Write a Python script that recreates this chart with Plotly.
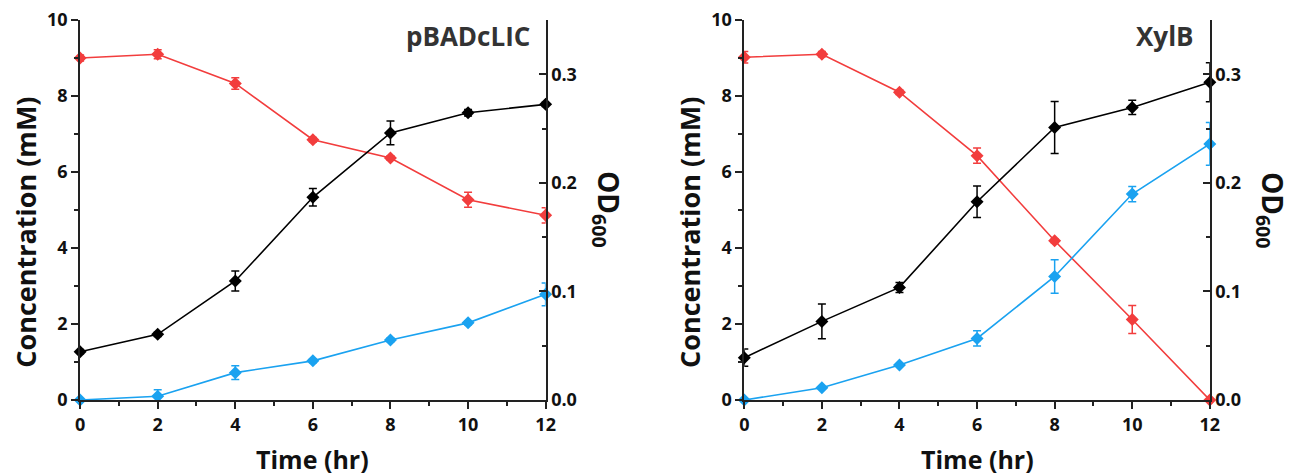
import plotly.graph_objects as go

# ---------------- data ----------------
time_hr = [0, 2, 4, 6, 8, 10, 12]

# pBADcLIC panel
p_red = [9.0, 9.1, 8.33, 6.85, 6.37, 5.27, 4.86]
p_red_err = [0.08, 0.12, 0.15, 0.06, 0.06, 0.2, 0.2]
p_blue = [0.0, 0.1, 0.72, 1.03, 1.58, 2.03, 2.78]
p_blue_err = [0.0, 0.17, 0.18, 0.05, 0.05, 0.05, 0.3]
p_od = [0.0445, 0.0605, 0.1096, 0.1867, 0.246, 0.2646, 0.2723]
p_od_err = [0.002, 0.002, 0.0092, 0.008, 0.011, 0.003, 0.002]

# XylB panel
x_red = [9.02, 9.1, 8.1, 6.43, 4.19, 2.12, 0.0]
x_red_err = [0.15, 0.07, 0.06, 0.2, 0.05, 0.37, 0.0]
x_blue = [0.0, 0.32, 0.92, 1.62, 3.25, 5.42, 6.74]
x_blue_err = [0.0, 0.03, 0.03, 0.2, 0.44, 0.2, 0.56]
x_od = [0.039, 0.0724, 0.1037, 0.1826, 0.251, 0.2695, 0.2926]
x_od_err = [0.008, 0.016, 0.0046, 0.0146, 0.024, 0.0066, 0.018]

panel_titles = ["pBADcLIC", "XylB"]
x_title = "Time (hr)"
y_title = "Concentration (mM)"
y2_title = "OD<sub>600</sub>"

RED = "#F23D3D"
BLUE = "#1AA2F0"
BLACK = "#000000"
FONT = "Open Sans"

W, H = 1290, 475
MT, MB = 20, 75
PH = H - MT - MB


def px_x(px):
    return px / W


def px_y(py):
    return (H - MB - py) / PH


fig = go.Figure()


def add_series(x, y, err, color, xa, ya):
    fig.add_trace(go.Scatter(
        x=x, y=y, xaxis=xa, yaxis=ya, mode="lines+markers",
        line=dict(color=color, width=1.6),
        marker=dict(symbol="diamond", size=10, color=color),
        error_y=dict(type="data", array=err, color=color, thickness=1.5, width=4, visible=True),
        cliponaxis=False, showlegend=False,
    ))


add_series(time_hr, p_red, p_red_err, RED, "x", "y")
add_series(time_hr, p_blue, p_blue_err, BLUE, "x", "y")
add_series(time_hr, p_od, p_od_err, BLACK, "x", "y2")
add_series(time_hr, x_red, x_red_err, RED, "x2", "y3")
add_series(time_hr, x_blue, x_blue_err, BLUE, "x2", "y3")
add_series(time_hr, x_od, x_od_err, BLACK, "x2", "y4")

tickfont = dict(family=FONT, size=18, color="#111111", weight="bold")
AX = dict(showline=True, linecolor="#222222", linewidth=1.8, showgrid=False,
          zeroline=False, ticks="outside", ticklen=7, tickwidth=1.5,
          tickcolor="#222222", tickfont=tickfont, mirror=False,
          ticklabeloverflow="allow")

dom1 = [px_x(76), px_x(547)]
dom2 = [px_x(748), px_x(1219)]

xcommon = dict(AX, range=[0, 12], dtick=2, tick0=0,
               minor=dict(ticks="outside", ticklen=4, dtick=1, tickcolor="#222222", tickwidth=1.5))
ycommon = dict(AX, range=[0, 10], dtick=2, tick0=0,
               minor=dict(ticks="outside", ticklen=4, dtick=1, tickcolor="#222222", tickwidth=1.5))
y2common = dict(AX, range=[0, 0.35], dtick=0.1, tick0=0, tickformat=".1f", side="right",
                ticks="inside",
                minor=dict(ticks="inside", ticklen=4, dtick=0.05, tickcolor="#222222", tickwidth=1.5))

fig.update_layout(
    width=W, height=H, autosize=False,
    margin=dict(l=0, r=0, t=MT, b=MB),
    paper_bgcolor="white", plot_bgcolor="white",
    xaxis=dict(xcommon, domain=dom1, anchor="y"),
    yaxis=dict(ycommon, anchor="x"),
    yaxis2=dict(y2common, anchor="x", overlaying="y"),
    xaxis2=dict(xcommon, domain=dom2, anchor="y3"),
    yaxis3=dict(ycommon, anchor="x2"),
    yaxis4=dict(y2common, anchor="x2", overlaying="y3"),
)

ann = []
for left_px, right_px, title in [(76, 547, panel_titles[0]), (748, 1219, panel_titles[1])]:
    ann.append(dict(text=title, x=px_x(right_px - 14), y=px_y(36), xref="paper", yref="paper",
                    xanchor="right", yanchor="middle", showarrow=False,
                    font=dict(family=FONT, size=26, color="#333333", weight="bold")))
    ann.append(dict(text=x_title, x=px_x((left_px + right_px) / 2), y=px_y(459),
                    xref="paper", yref="paper", xanchor="center", yanchor="middle",
                    showarrow=False,
                    font=dict(family=FONT, size=25, color="#111111", weight="bold")))
    ann.append(dict(text=y_title, x=px_x(left_px - 55), y=px_y(232), xref="paper", yref="paper",
                    xanchor="center", yanchor="middle", showarrow=False, textangle=-90,
                    font=dict(family=FONT, size=27, color="#111111", weight="bold")))
    ann.append(dict(text=y2_title, x=px_x(right_px + 62), y=px_y(210), xref="paper", yref="paper",
                    xanchor="center", yanchor="middle", showarrow=False, textangle=90,
                    font=dict(family=FONT, size=28, color="#111111", weight="bold")))
fig.update_layout(annotations=ann)

fig.write_html(
    "out.html",
    config={"displayModeBar": False},
    post_script="document.body.style.margin='0';document.body.style.overflow='hidden';",
)
